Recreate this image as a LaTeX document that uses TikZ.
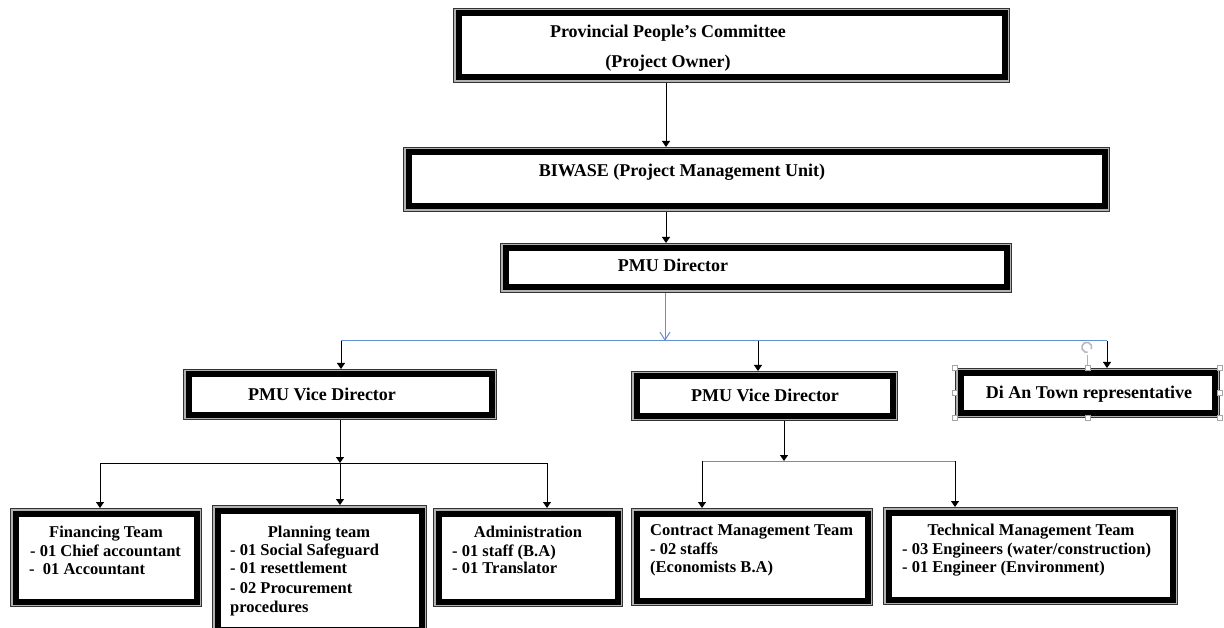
\documentclass[tikz,border=0pt]{standalone}
\usepackage{fontspec}
\setmainfont{Liberation Serif}
\usetikzlibrary{arrows.meta}
\definecolor{lnblue}{RGB}{100,145,210}
\tikzset{
  frame/.style={rectangle, fill=white, draw=black, line width=6pt, inner sep=0pt, outer sep=5.5pt,
    preaction={draw=black!80, line width=11pt},
    preaction={draw=gray!60, line width=9.2pt}},
  big/.style={font=\fontsize{18}{30}\selectfont\bfseries, inner sep=0pt, anchor=base},
  txt/.style={font=\fontsize{16.5}{18.3}\selectfont\bfseries, inner sep=0pt, anchor=base},
  txl/.style={txt, anchor=base west},
  arr/.style={draw=black, line width=0.9pt, -{Triangle[length=6pt,width=8pt]}},
  barr/.style={draw=lnblue, line width=1pt, -{Straight Barb[length=8pt,width=10pt]}},
  bline/.style={draw=lnblue, line width=1pt},
  kline/.style={draw=black, line width=0.9pt},
  handle/.style={rectangle, draw=gray!70, fill=white, line width=0.6pt, minimum size=5pt, inner sep=0pt},
}
\begin{document}
\begin{tikzpicture}[x=1pt, y=-1pt]
\useasboundingbox (0,0) rectangle (1224,628);
\clip (0,0) rectangle (1224,628);
% boxes (size = outer size - 11)
\node[frame, minimum width=546pt, minimum height=64pt] (top) at (731.5,45.5) {};
\node[frame, minimum width=696pt, minimum height=54pt] (biwase) at (756.5,179.5) {};
\node[frame, minimum width=501pt, minimum height=39pt] (pmud) at (756,268) {};
\node[frame, minimum width=303pt, minimum height=40pt] (vd1) at (340,394.5) {};
\node[frame, minimum width=256pt, minimum height=39pt] (vd2) at (764.5,396) {};
\node[frame, minimum width=254pt, minimum height=39pt] (dian) at (1087.5,393) {};
\node[frame, minimum width=181pt, minimum height=88pt] (fin) at (106,557.5) {};
\node[frame, minimum width=204pt, minimum height=119pt] (plan) at (319.5,570) {};
\node[frame, minimum width=179pt, minimum height=88pt] (admin) at (528,557.5) {};
\node[frame, minimum width=231pt, minimum height=87pt] (contract) at (752,557) {};
\node[frame, minimum width=284pt, minimum height=87pt] (tech) at (1030.5,556) {};

% texts
\node[big] (t1) at (668,38) {Provincial People’s Committee};
\node[big] (t2) at (668,68) {(Project Owner)};
\node[big] (tb) at (682,177) {BIWASE (Project Management Unit)};
\node[big] (tp) at (673,272) {PMU Director};
\node[big] (tv1) at (322,400) {PMU Vice Director};
\node[big] (tv2) at (765,401) {PMU Vice Director};
\node[big] (td) at (1089,399) {Di An Town representative};

\node[txt] (f0) at (106,537) {Financing Team};
\node[txl] (f1) at (30,556) {- 01 Chief accountant};
\node[txl] (f2) at (29,574) {-\ \ 01 Accountant};

\node[txt] (p0) at (319,537) {Planning team};
\node[txl] (p1) at (230,555) {- 01 Social Safeguard};
\node[txl] (p2) at (230,573) {- 01 resettlement};
\node[txl] (p3) at (230,593) {- 02 Procurement};
\node[txl] (p4) at (230,612) {procedures};

\node[txt] (a0) at (528,537) {Administration};
\node[txl] (a1) at (452,556) {- 01 staff (B.A)};
\node[txl] (a2) at (452,573) {- 01 Translator};

\node[txl] (c0) at (650,535) {Contract Management Team};
\node[txl] (c1) at (650,554) {- 02 staffs};
\node[txl] (c2) at (650,572) {(Economists B.A)};

\node[txt] (e0) at (1031,535) {Technical Management Team};
\node[txl] (e1) at (902,554) {- 03 Engineers (water/construction)};
\node[txl] (e2) at (902,572) {- 01 Engineer (Environment)};

% connectors
\coordinate (xa) at (666,0);
\draw[arr] (top.south -| xa) -- (biwase.north -| xa);
\draw[arr] (biwase.south -| xa) -- (pmud.north -| xa);
\coordinate (jb) at (665,341);
\draw[barr] (pmud.south -| jb) -- (jb);
\coordinate (jl) at (341,341);
\coordinate (jm) at (758,341);
\coordinate (jr) at (1107,341);
\draw[bline] (jl) -- (jr);
\draw[arr] (jl) -- (vd1.north -| jl);
\draw[arr] (jm) -- (vd2.north -| jm);
\draw[arr] (jr) -- (dian.north -| jr);

\coordinate (k) at (340,463);
\coordinate (kl) at (100,463);
\coordinate (kr) at (547,463);
\draw[arr] (vd1.south -| k) -- (k);
\draw[kline] (kl) -- (kr);
\draw[arr] (kl) -- (fin.north -| kl);
\draw[arr] (k) -- (plan.north -| k);
\draw[arr] (kr) -- (admin.north -| kr);

\coordinate (m) at (784,461);
\coordinate (ml) at (702,461);
\coordinate (mr) at (955,461);
\draw[arr] (vd2.south -| m) -- (m);
\draw[bline] (ml) -- (mr);
\draw[arr] (ml) -- (contract.north -| ml);
\draw[arr] (mr) -- (tech.north -| mr);

% selection handles on the Di An box
\draw[gray!60, line width=0.8pt] (dian.north) -- ++(0,-13) coordinate (rh);
\draw[gray!55, line width=1.6pt] ([shift={(4,-1)}]rh) ++(0,-5) arc[start angle=-20, end angle=280, radius=5pt];
\foreach \a in {north west,north,north east,west,east,south west,south,south east}
  \node[handle] at (dian.\a) {};
\end{tikzpicture}
\end{document}
